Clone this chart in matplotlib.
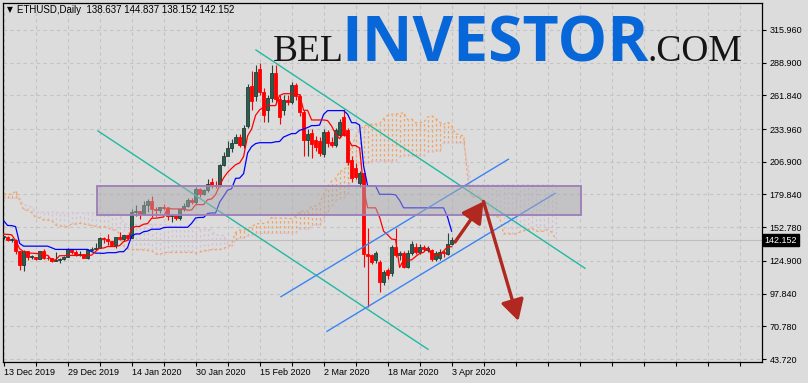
import numpy as np
import matplotlib
matplotlib.use("Agg")
import matplotlib.pyplot as plt
from matplotlib.patches import Rectangle, FancyArrowPatch
from matplotlib.transforms import blended_transform_factory

# ------------------------------------------------------------------ data
symbol_title = "ETHUSD,Daily"
header_values = "138.637 144.837 138.152 142.152"
last_price = 142.152

x_tick_bars = [0, 16, 32, 48, 64, 80, 96, 112]
x_tick_labels = ["13 Dec 2019", "29 Dec 2019", "14 Jan 2020", "30 Jan 2020",
                 "15 Feb 2020", "2 Mar 2020", "18 Mar 2020", "3 Apr 2020"]
y_ticks = [43.720, 70.780, 97.840, 124.900, 152.780, 179.840, 206.900,
           233.960, 261.840, 288.900, 315.960]

# daily candles, 13 Dec 2019 .. 3 Apr 2020
opens = [144.6, 144.8, 142.0, 142.3, 132.7, 121.9, 132.8, 128.1, 128.2, 126.8,
         132.7, 127.6, 127.1, 125.2, 125.6, 126.3, 128.1, 134.4, 132.0, 129.6,
         130.8, 127.4, 134.2, 134.9, 135.9, 144.1, 142.8, 141.1, 138.0, 144.3,
         142.8, 146.1, 143.6, 165.6, 166.2, 163.8, 171.2, 174.2, 167.9, 166.8,
         169.4, 168.7, 162.2, 162.8, 160.7, 167.9, 170.0, 175.5, 173.8, 184.7,
         180.0, 183.7, 190.0, 187.5, 186.8, 204.2, 212.0, 218.5, 222.5, 227.5,
         221.0, 236.5, 270.0, 261.0, 284.0, 265.0, 250.0, 259.4, 280.0, 259.0,
         250.0, 258.0, 256.0, 270.4, 261.0, 248.4, 225.0, 231.0, 225.0, 224.0,
         213.0, 231.8, 223.6, 220.8, 229.0, 244.0, 233.0, 208.0, 201.5, 189.0,
         197.4, 131.0, 129.8, 125.6, 124.2, 107.7, 117.0, 114.6, 136.7, 129.8,
         131.2, 120.1, 131.2, 136.7, 132.5, 136.0, 134.0, 134.0, 126.5, 127.0,
         132.5, 130.3, 138.637]
highs = [145.9, 145.1, 143.5, 142.7, 133.0, 134.1, 133.1, 129.4, 128.4, 133.0,
         135.1, 129.8, 127.3, 132.3, 127.6, 129.1, 135.5, 134.5, 133.7, 132.8,
         130.8, 134.6, 136.1, 139.4, 144.6, 144.5, 147.1, 141.4, 144.9, 148.7,
         146.3, 146.4, 167.5, 171.1, 166.4, 174.8, 175.8, 178.9, 169.2, 169.8,
         171.7, 169.1, 163.8, 162.9, 168.1, 172.8, 176.8, 177.2, 186.0, 185.6,
         184.2, 192.6, 193.4, 191.0, 205.2, 215.2, 224.4, 225.5, 229.5, 229.9,
         237.3, 271.5, 282.0, 287.0, 288.5, 268.0, 262.0, 287.0, 287.0, 262.0,
         262.0, 262.0, 273.0, 272.0, 263.0, 250.0, 234.0, 234.0, 228.0, 227.0,
         234.0, 233.0, 227.0, 235.0, 242.0, 250.6, 235.0, 212.0, 206.0, 199.0,
         198.0, 152.0, 131.0, 133.0, 126.0, 117.0, 119.0, 138.0, 152.0, 133.0,
         133.0, 134.0, 141.0, 140.0, 138.5, 138.0, 137.0, 135.0, 133.0, 134.5,
         134.0, 148.3, 144.837]
lows = [143.1, 141.2, 140.6, 131.0, 117.5, 116.3, 125.3, 126.1, 125.9, 126.6,
        126.7, 125.7, 123.7, 124.9, 123.3, 126.0, 127.9, 130.9, 128.8, 129.2,
        126.9, 126.5, 133.0, 134.9, 135.8, 139.9, 138.4, 137.4, 135.7, 142.2,
        141.6, 142.5, 143.6, 161.7, 159.5, 162.5, 165.6, 161.1, 161.9, 164.9,
        166.6, 159.0, 156.9, 158.4, 158.9, 166.3, 169.1, 172.3, 172.0, 177.4,
        179.5, 182.0, 185.5, 185.2, 186.0, 203.8, 211.3, 215.3, 222.3, 218.9,
        218.3, 235.0, 250.0, 257.0, 262.0, 240.0, 240.0, 256.0, 255.0, 238.0,
        246.0, 254.0, 255.0, 258.0, 245.0, 212.0, 212.0, 210.0, 216.0, 212.0,
        211.0, 219.0, 219.0, 219.0, 227.0, 228.0, 204.0, 190.0, 193.0, 186.0,
        120.0, 87.0, 122.0, 123.0, 99.4, 105.0, 110.0, 112.0, 128.0, 126.0,
        119.0, 119.0, 130.0, 131.0, 131.0, 133.0, 132.0, 125.0, 125.0, 126.0,
        128.0, 129.5, 138.152]
closes = [144.8, 142.0, 142.3, 132.7, 121.9, 132.8, 128.1, 128.2, 126.8, 132.7,
          127.6, 127.1, 125.2, 125.6, 126.3, 128.1, 134.4, 132.0, 129.6, 130.8,
          127.4, 134.2, 134.9, 135.9, 144.1, 142.8, 141.1, 138.0, 144.3, 142.8,
          146.1, 143.6, 165.6, 166.2, 163.8, 171.2, 174.2, 167.9, 166.8, 169.4,
          168.7, 162.2, 162.8, 160.7, 167.9, 170.0, 175.5, 173.8, 184.7, 180.0,
          183.7, 188.6, 187.5, 186.8, 204.2, 212.0, 218.5, 222.5, 227.5, 221.0,
          234.6, 269.0, 257.0, 281.5, 265.0, 246.0, 259.4, 280.0, 259.0, 244.0,
          258.0, 256.0, 270.4, 261.0, 248.4, 225.0, 230.0, 222.0, 219.4, 214.0,
          231.8, 222.2, 220.8, 233.2, 240.1, 229.1, 207.0, 193.2, 194.6, 197.4,
          131.0, 129.0, 124.2, 131.2, 107.7, 115.4, 113.2, 136.7, 129.8, 131.2,
          120.1, 131.2, 138.6, 132.5, 136.7, 134.5, 135.5, 126.5, 131.2, 132.5,
          131.2, 138.6, 142.152]

# earlier daily highs/lows (27 Sep .. 12 Dec 2019), off-screen, feed the Ichimoku
history_highs = [175.5, 176.0, 174.1, 181.4, 184.5, 180.8, 180.6, 177.3, 177.3, 177.4,
                 181.5, 184.0, 195.5, 198.5, 194.9, 183.3, 187.2, 188.7, 187.4, 180.7,
                 179.4, 178.3, 175.5, 176.2, 177.4, 175.4, 171.0, 162.6, 180.9, 197.5,
                 186.6, 189.8, 193.0, 192.3, 185.5, 183.8, 185.4, 183.7, 190.2, 192.8,
                 193.8, 192.4, 186.4, 186.3, 190.7, 190.5, 188.5, 188.3, 188.3, 185.0,
                 183.3, 186.0, 184.4, 176.5, 176.3, 175.5, 161.3, 152.1, 153.4, 148.7,
                 150.4, 155.3, 154.4, 157.9, 155.3, 152.3, 151.5, 149.1, 149.1, 150.0,
                 149.3, 150.6, 152.2, 152.5, 148.8, 145.5, 146.3]
history_lows = [163.6, 170.4, 166.0, 163.5, 175.3, 175.2, 170.6, 172.3, 172.5, 168.8,
                168.4, 176.9, 178.8, 186.0, 178.6, 179.3, 178.6, 179.0, 178.4, 174.0,
                172.9, 170.8, 171.3, 169.2, 172.0, 168.5, 155.1, 157.8, 159.9, 174.5,
                176.3, 182.1, 180.0, 179.4, 177.7, 179.1, 181.4, 180.2, 180.2, 185.0,
                187.8, 184.6, 179.1, 182.5, 183.7, 183.4, 183.5, 185.3, 182.5, 177.7,
                180.5, 181.0, 174.1, 171.8, 173.4, 158.7, 143.4, 146.1, 139.9, 131.9,
                144.7, 141.1, 149.4, 150.1, 149.6, 146.2, 147.6, 146.2, 143.6, 145.1,
                145.1, 147.3, 147.7, 146.3, 144.9, 141.6, 141.5]

ichimoku_periods = (9, 26, 52)

# drawn objects (bar index from 13 Dec 2019, price)
teal_lines = [((63.1, 299.4), (145.35, 118.8)),
              ((23.6, 232.4), (106.1, 51.75))]
blue_lines = [((69.35, 95.3), (126.2, 209.0)),
              ((80.85, 66.6), (137.85, 180.8))]
zone_bars = (23.35, 144.35)
zone_prices = (162.9, 186.9)
arrows = [((112.85, 140.5), (119.98, 174.05)),
          ((119.98, 174.05), (128.7, 75.2))]

# ------------------------------------------------------------------ style
BG = "#DCDCDC"
W, H, DPI = 808, 383, 100
fig = plt.figure(figsize=(W / DPI, H / DPI), dpi=DPI, facecolor=BG)
ax = fig.add_axes([2.5 / W, (H - 362) / H, 760 / W, (362 - 2.5) / H])
ax.set_facecolor(BG)
ax.set_xlim(-0.275, 189.725)
ax.set_ylim(41.24, 338.7)

# grid
for yv in y_ticks:
    ax.axhline(yv, color="#C3C3C3", lw=0.8, ls=(0, (3, 3)), zorder=0)
for xv in np.arange(0, 190, 8):
    ax.axvline(xv, color="#C3C3C3", lw=0.8, ls=(0, (3, 3)), zorder=0)

# ------------------------------------------------------------------ Ichimoku
hi_all = np.array(history_highs + highs, dtype=float)
lo_all = np.array(history_lows + lows, dtype=float)
n_hist = len(history_highs)


def midline(period):
    out = np.full(len(hi_all), np.nan)
    for t in range(period - 1, len(hi_all)):
        out[t] = (hi_all[t - period + 1:t + 1].max() + lo_all[t - period + 1:t + 1].min()) / 2
    return out


p_t, p_k, p_b = ichimoku_periods
tenkan = midline(p_t)
kijun = midline(p_k)
span_b = midline(p_b)
span_a = (tenkan + kijun) / 2
full_x = np.arange(len(hi_all)) - n_hist
span_x = full_x + p_k

ok = (span_x >= 0) & ~np.isnan(span_a) & ~np.isnan(span_b)
sx, sa, sb = span_x[ok], span_a[ok], span_b[ok]
up = sa >= sb
ax.vlines(sx[up], sb[up], sa[up], colors="#F4A460", lw=0.9, linestyles=(0, (2, 2)), zorder=1)
ax.vlines(sx[~up], sa[~up], sb[~up], colors="#D8BFD8", lw=0.9, linestyles=(0, (2, 2)), zorder=1)
ax.plot(sx, sa, color="#F4A460", lw=0.9, ls=(0, (2, 2)), zorder=1.5)
ax.plot(sx, sb, color="#D8BFD8", lw=0.9, ls=(0, (2, 2)), zorder=1.5)

vis = full_x >= 0
ax.plot(full_x[vis], kijun[vis], color="#0000FF", lw=0.9, zorder=4)
ax.plot(full_x[vis], tenkan[vis], color="#FF0000", lw=0.9, zorder=4)

# current price line
ax.axhline(last_price, color="#BEBEBE", lw=0.8, zorder=0.5)

# ------------------------------------------------------------------ candles
o = np.array(opens); h = np.array(highs); l = np.array(lows); c = np.array(closes)
xb = np.arange(len(o))
bull = c >= o
ax.vlines(xb[bull], l[bull], h[bull], colors="#24463B", lw=0.8, zorder=3)
ax.vlines(xb[~bull], l[~bull], h[~bull], colors="#FF0000", lw=0.8, zorder=3)
body_lo = np.minimum(o, c)
body_h = np.maximum(np.abs(c - o), 0.6)
ax.bar(xb[bull], body_h[bull], bottom=body_lo[bull], width=0.72,
       color="#2F5E4E", edgecolor="#1F3D33", lw=0.6, zorder=3.5)
ax.bar(xb[~bull], body_h[~bull], bottom=body_lo[~bull], width=0.72,
       color="#FF0000", edgecolor="#FF0000", lw=0.6, zorder=3.5)

# ------------------------------------------------------------------ drawings
for (x0, y0), (x1, y1) in teal_lines:
    ax.plot([x0, x1], [y0, y1], color="#22B9A2", lw=1.0, zorder=5)
for (x0, y0), (x1, y1) in blue_lines:
    ax.plot([x0, x1], [y0, y1], color="#3A84F2", lw=1.0, zorder=5)

ax.add_patch(Rectangle((zone_bars[0], zone_prices[0]), zone_bars[1] - zone_bars[0],
                       zone_prices[1] - zone_prices[0],
                       facecolor=(0.67, 0.67, 0.69, 0.5), edgecolor="#9C7DB8",
                       lw=1.3, zorder=6))

for (x0, y0), (x1, y1) in arrows:
    ax.add_patch(FancyArrowPatch((x0, y0), (x1, y1),
                                 arrowstyle="-|>,head_length=0.9,head_width=0.5",
                                 mutation_scale=14, color="#B0281F", lw=2.4,
                                 shrinkA=0, shrinkB=0, zorder=7))

# ------------------------------------------------------------------ axes
for s in ax.spines.values():
    s.set_color("black")
    s.set_linewidth(0.9)

ax.yaxis.tick_right()
ax.set_yticks(y_ticks)
ax.set_yticklabels([f"{v:.3f}" for v in y_ticks])
ax.tick_params(axis="y", direction="out", length=3, width=0.8, pad=2,
               labelsize=6.5, colors="black")
ax.set_xticks(x_tick_bars)
ax.set_xticklabels(x_tick_labels, ha="left")
ax.set_xticks(np.arange(0, 190, 8), minor=True)
ax.tick_params(axis="x", which="both", direction="out", length=3, width=0.8, pad=1,
               labelsize=6.5, colors="black")
for lab in ax.get_xticklabels() + ax.get_yticklabels():
    lab.set_fontfamily(["Liberation Sans", "DejaVu Sans"])

# price tag
tr = blended_transform_factory(ax.transAxes, ax.transData)
ax.text(1.003, last_price, "142.152", transform=tr, ha="left", va="center",
        fontsize=6.5, color="white", family=["Liberation Sans", "DejaVu Sans"],
        bbox=dict(boxstyle="square,pad=0.15", fc="black", ec="black"), zorder=10,
        clip_on=False)

# header
fig.text(7 / W, (H - 10) / H, "\u25BC", fontsize=5.5, color="black",
         family=["DejaVu Sans"], va="center", ha="left")
fig.text(17 / W, (H - 10) / H, symbol_title + "  " + header_values, fontsize=7,
         color="black", family=["Liberation Sans", "DejaVu Sans"], va="center", ha="left")

# watermark
base = (H - 61) / H
fig.text(273 / W, base, "BEL", fontsize=27, color="#151515",
         family=["Liberation Serif"], va="baseline", ha="left", zorder=20)
fig.text(341 / W, base, "INVESTOR", fontsize=45, color="#0867D8", fontweight="bold",
         family=["Open Sans", "DejaVu Sans"], va="baseline", ha="left", zorder=20)
fig.text(648 / W, base, ".COM", fontsize=27, color="#151515",
         family=["Liberation Serif"], va="baseline", ha="left", zorder=20)

fig.savefig("out.png", dpi=DPI, facecolor=BG)
